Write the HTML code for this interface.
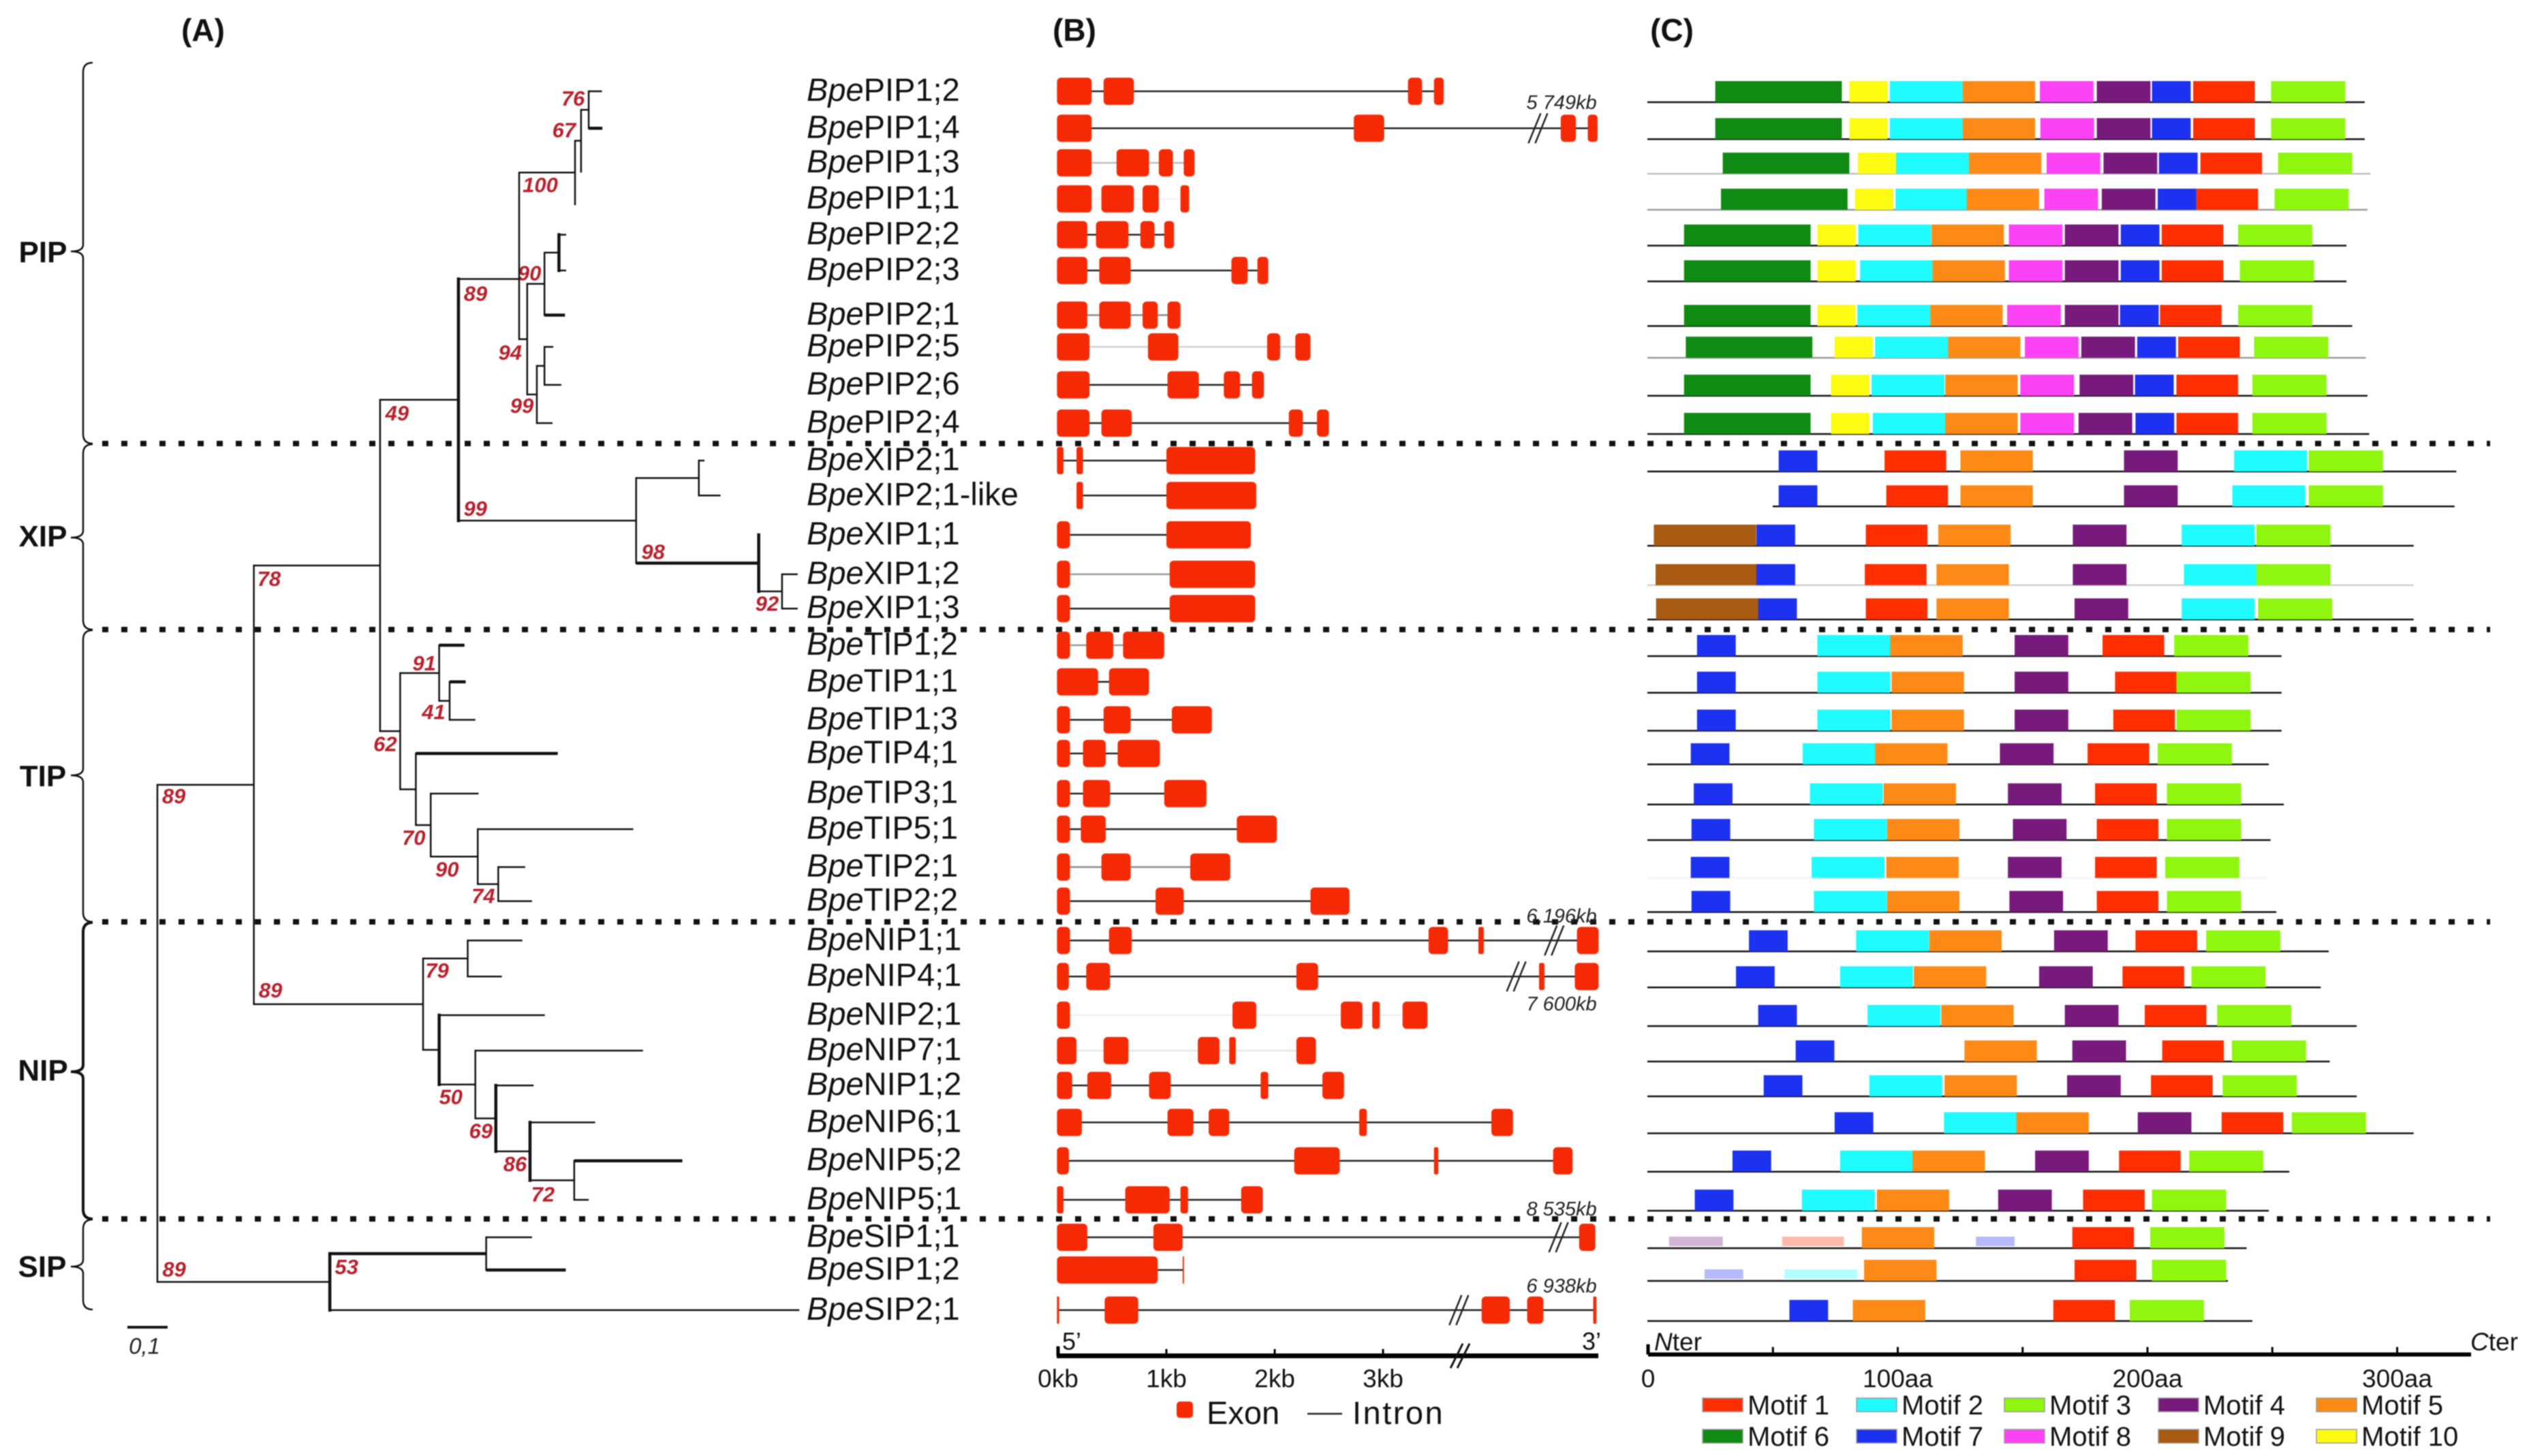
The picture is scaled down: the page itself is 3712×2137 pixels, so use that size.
<!DOCTYPE html>
<html>
<head>
<meta charset="utf-8">
<title>Aquaporin gene family: phylogeny, gene structure and motifs</title>
<style>
html,body{margin:0;padding:0;background:#fff;}
svg{display:block;font-family:"Liberation Sans",sans-serif;filter:blur(0.7px);}
</style>
</head>
<body>
<svg id="chart" xmlns="http://www.w3.org/2000/svg" width="3712" height="2137" viewBox="0 0 3712 2137">
<rect width="3712" height="2137" fill="#fff"/>
<text x="298" y="60" font-size="46" font-weight="bold" text-anchor="middle" fill="#111">(A)</text>
<text x="1577" y="60" font-size="46" font-weight="bold" text-anchor="middle" fill="#111">(B)</text>
<text x="2454" y="60" font-size="46" font-weight="bold" text-anchor="middle" fill="#111">(C)</text>
<g font-size="44" font-weight="bold" text-anchor="middle" fill="#111">
<text x="63" y="385">PIP</text>
<text x="63" y="802">XIP</text>
<text x="63" y="1154">TIP</text>
<text x="63" y="1586">NIP</text>
<text x="62" y="1874">SIP</text>
</g>
<g fill="none" stroke="#111" stroke-width="2.5">
<path d="M136,92 Q122,92 122,106 L122,359 Q122,369 104,369 Q122,369 122,379 L122,637 Q122,651 136,651"/>
<path d="M136,652 Q122,652 122,666 L122,779 Q122,789 104,789 Q122,789 122,799 L122,910 Q122,924 136,924"/>
<path d="M136,925 Q122,925 122,939 L122,1128 Q122,1138 104,1138 Q122,1138 122,1148 L122,1339 Q122,1353 136,1353"/>
<path stroke-width="4" d="M136,1354 Q122,1354 122,1368 L122,1563 Q122,1573 104,1573 Q122,1573 122,1583 L122,1775 Q122,1789 136,1789"/>
<path d="M136,1790 Q122,1790 122,1804 L122,1849 Q122,1859 104,1859 Q122,1859 122,1869 L122,1908 Q122,1922 136,1922"/>
</g>
<g stroke="#111" stroke-width="8" stroke-dasharray="9 19">
<line x1="150" y1="651" x2="3655" y2="651"/>
<line x1="150" y1="924" x2="3655" y2="924"/>
<line x1="150" y1="1353" x2="3655" y2="1353"/>
<line x1="150" y1="1789" x2="3655" y2="1789"/>
</g>
<g>
<line x1="187" y1="1948" x2="246" y2="1948" stroke="#111" stroke-width="4"/>
<text x="212" y="1987" font-size="33" font-style="italic" text-anchor="middle" fill="#222">0,1</text>
</g>
<g id="tree"></g>
<g id="labels"></g>
<g id="genes"></g>
<g id="motifs"></g>
<g font-size="29" font-style="italic" text-anchor="middle" fill="#222">
<text x="2292" y="160">5 749kb</text>
<text x="2292" y="1354">6,196kb</text>
<text x="2292" y="1483">7 600kb</text>
<text x="2292" y="1784">8 535kb</text>
<text x="2292" y="1897">6 938kb</text>
</g>
<g fill="#111">
<rect x="1727" y="2057" width="24" height="24" rx="5" fill="#f52a05"/>
<text x="1771" y="2090" font-size="47">Exon</text>
<line x1="1919" y1="2075" x2="1970" y2="2075" stroke="#222" stroke-width="2.5"/>
<text x="1985" y="2090" font-size="47" letter-spacing="2.5">Intron</text>
</g>
<script>
// ---------- categories ----------
const geneNames = ["PIP1;2","PIP1;4","PIP1;3","PIP1;1","PIP2;2","PIP2;3","PIP2;1","PIP2;5","PIP2;6","PIP2;4",
  "XIP2;1","XIP2;1-like","XIP1;1","XIP1;2","XIP1;3",
  "TIP1;2","TIP1;1","TIP1;3","TIP4;1","TIP3;1","TIP5;1","TIP2;1","TIP2;2",
  "NIP1;1","NIP4;1","NIP2;1","NIP7;1","NIP1;2","NIP6;1","NIP5;2","NIP5;1",
  "SIP1;1","SIP1;2","SIP2;1"];

// ---------- (A) tree: [node, parent, branch length, support] ----------
const treeEdges = [
["A","root",.240,89],["B","A",.314,78],["C","B",.195,49],["D","C",.151,89],["E","D",.139,100],
["E2","E",.015,67],["F","E2",.019,76],["PIP1;2","F",.033],["PIP1;4","F",.034],["PIP1;3","E2",0],["PIP1;1","E",0],
["G","D",.020,94],["H","G",.043,90],["I","H",.036],["PIP2;2","I",.018],["PIP2;3","I",.018],["PIP2;1","H",.051],
["J","G",.024,99],["K","J",.019],["PIP2;5","K",.022],["PIP2;6","K",.042],["PIP2;4","J",.039],
["L","C",.442,99],["M","L",.156],["XIP2;1","M",.014],["XIP2;1-like","M",.054],
["N","L",.305,98],["XIP1;1","N",0],["O","N",.058,92],["XIP1;2","O",.039],["XIP1;3","O",.039],
["P","B",.050,62],["Q","P",.097,91],["TIP1;2","Q",.063],["R","Q",.026,41],["TIP1;1","R",.040],["TIP1;3","R",.064],
["S","P",.039],["TIP4;1","S",.353],["T","S",.037,70],["TIP3;1","T",.119],["U","T",.117,90],["TIP5;1","U",.387],
["V","U",.051,74],["TIP2;1","V",.067],["TIP2;2","V",.084],
["W","A",.421,89],["X","W",.111,79],["NIP1;1","X",.136],["NIP4;1","X",.085],
["Y","W",.040],["NIP2;1","Y",.263],["Z","Y",.090,50],["NIP7;1","Z",.417],["AA","Z",.051,69],["NIP1;2","AA",.094],
["AB","AA",.085,86],["NIP6;1","AB",.162],["AC","AB",.110,72],["NIP5;2","AC",.269],["NIP5;1","AC",.036],
["AD","root",.429,89],["AE","AD",.389,53],["SIP1;1","AE",.114],["SIP1;2","AE",.198],["SIP2;1","AD",1.168]
];

// ---------- (B) exons in kb, one list per gene ----------
const exonsKb = [
[[-.01,.31],[.42,.70],[3.23,3.36],[3.47,3.56]],
[[-.01,.31],[2.73,3.01],[4.64,4.78],[4.89,4.98]],
[[-.01,.31],[.54,.84],[.93,1.06],[1.16,1.26]],
[[-.01,.31],[.40,.70],[.78,.93],[1.13,1.21]],
[[-.01,.27],[.35,.65],[.76,.89],[.98,1.07]],
[[-.01,.27],[.38,.67],[1.60,1.75],[1.84,1.94]],
[[-.01,.27],[.38,.67],[.78,.92],[1.01,1.13]],
[[-.01,.29],[.83,1.11],[1.93,2.05],[2.19,2.33]],
[[-.01,.29],[1.01,1.30],[1.53,1.68],[1.79,1.90]],
[[-.01,.29],[.40,.68],[2.13,2.26],[2.39,2.50]],
[[-.01,.05],[.17,.23],[1.00,1.82]],
[[.17,.23],[1.00,1.83]],
[[-.01,.11],[1.00,1.78]],
[[-.01,.11],[1.03,1.82]],
[[-.01,.11],[1.03,1.82]],
[[-.01,.11],[.26,.51],[.60,.98]],
[[-.01,.37],[.47,.84]],
[[-.01,.11],[.42,.67],[1.05,1.42]],
[[-.01,.11],[.23,.44],[.55,.94]],
[[-.01,.11],[.23,.48],[.98,1.37]],
[[-.01,.11],[.21,.44],[1.65,2.02]],
[[-.01,.11],[.40,.67],[1.22,1.59]],
[[-.01,.11],[.90,1.16],[2.33,2.69]],
[[-.01,.11],[.47,.68],[3.42,3.60],[3.88,3.93],[4.79,4.99]],
[[-.01,.10],[.26,.48],[2.20,2.40],[4.44,4.49],[4.77,4.99]],
[[-.01,.11],[1.61,1.83],[2.61,2.81],[2.90,2.97],[3.18,3.41]],
[[-.01,.17],[.42,.65],[1.29,1.49],[1.58,1.64],[2.20,2.38]],
[[-.01,.13],[.27,.49],[.84,1.04],[1.87,1.94],[2.44,2.64]],
[[-.01,.22],[1.01,1.25],[1.39,1.58],[2.78,2.85],[4.00,4.20]],
[[-.01,.10],[2.18,2.60],[3.47,3.51],[4.57,4.75]],
[[-.01,.05],[.62,1.03],[1.13,1.20],[1.69,1.89]],
[[-.01,.27],[.88,1.15],[4.81,4.96]],
[[-.01,.92],[1.15,1.16]],
[[-.01,.01],[.43,.74],[3.91,4.17],[4.33,4.48],[4.94,4.97]]
];
const breakGenes = ["PIP1;4","NIP1;1","NIP4;1","SIP1;1","SIP2;1"];
const breakKb = [4.43,4.58,4.23,4.62,3.70];
const geneTickKb = [0,1,2,3];
const geneTickLabels = ["0kb","1kb","2kb","3kb"];

// ---------- (C) motifs in amino acids ----------
const motifNames = ["Motif 1","Motif 2","Motif 3","Motif 4","Motif 5","Motif 6","Motif 7","Motif 8","Motif 9","Motif 10"];
const motifLengthsAa = [24.7,29.2,29.7,21.5,29,50.7,15.5,21.5,41,15.3];
const proteinLengthsAa = [287,287,289.3,288.1,279.7,279.7,282,287.4,288.1,288.8,323.7,323,306.6,306.6,306.6,
  253.7,253.7,253.7,248.6,254.6,249.3,247.7,251.6,272.6,269.4,283.8,273,283.8,306.6,256.8,248.6,239.7,232.2,242];
const proteinStartsAa = [0,0,0,0,0,0,0,0,0,0,0,50.2,0,0,0,0,0,0,0,0,0,0,0,0,0,0,0,0,0,0,0,0,0,0];
// each row: [motif number, start aa]
const motifSites = [
[[6,26.9],[10,80.6],[2,96.8],[5,126],[8,156.9],[4,179.7],[7,201.8],[1,218.3],[3,249.5]],
[[6,26.9],[10,80.6],[2,96.8],[5,126],[8,157.1],[4,179.7],[7,201.8],[1,218.3],[3,249.5]],
[[6,29.9],[10,84],[2,99.3],[5,128.5],[8,159.6],[4,182.4],[7,204.6],[1,221.2],[3,252.3]],
[[6,29.2],[10,82.9],[2,99.1],[5,127.6],[8,158.7],[4,181.7],[7,204.1],[1,219.6],[3,250.9]],
[[6,14.4],[10,67.8],[2,84.2],[5,113.5],[8,144.5],[4,166.9],[7,189.3],[1,205.7],[3,236.3]],
[[6,14.4],[10,67.8],[2,84.9],[5,113.9],[8,144.5],[4,166.9],[7,189.3],[1,205.7],[3,237]],
[[6,14.4],[10,67.8],[2,83.8],[5,113],[8,143.8],[4,166.9],[7,189],[1,205],[3,236.3]],
[[6,15.1],[10,74.7],[2,90.9],[5,120.1],[8,150.9],[4,173.5],[7,195.9],[1,212.3],[3,242.7]],
[[6,14.4],[10,73.3],[2,89.5],[5,119],[8,149.1],[4,172.8],[7,195],[1,211.6],[3,242]],
[[6,14.4],[10,73.3],[2,90],[5,119],[8,149.1],[4,172.4],[7,195.2],[1,211.6],[3,242]],
[[7,52.3],[1,94.7],[5,125.1],[4,190.6],[2,234.7],[3,264.6]],
[[7,52.3],[1,95.4],[5,125.1],[4,190.6],[2,234],[3,264.6]],
[[9,2.3],[7,43.4],[1,87.2],[5,116.2],[4,170.1],[2,213.7],[3,243.6]],
[[9,3],[7,43.4],[1,86.8],[5,115.5],[4,170.1],[2,214.6],[3,243.6]],
[[9,3.2],[7,44.1],[1,87.2],[5,115.5],[4,170.8],[2,213.7],[3,244.3]],
[[7,19.6],[2,67.8],[5,97],[4,146.8],[1,182],[3,210.7]],
[[7,19.6],[2,67.8],[5,97.5],[4,146.8],[1,187],[3,211.6]],
[[7,19.6],[2,67.8],[5,97.5],[4,146.8],[1,186.3],[3,211.6]],
[[7,17.1],[2,61.9],[5,90.9],[4,140.9],[1,176],[3,204.1]],
[[7,18.3],[2,64.8],[5,94.3],[4,144.1],[1,179],[3,207.8]],
[[7,17.4],[2,66.4],[5,95.7],[4,146.1],[1,179.7],[3,207.8]],
[[7,17.1],[2,65.5],[5,95.4],[4,144.1],[1,179],[3,207.1]],
[[7,17.4],[2,66.4],[5,95.7],[4,144.7],[1,179.7],[3,207.8]],
[[7,40.4],[2,83.3],[5,112.6],[4,162.6],[1,195.2],[3,223.5]],
[[7,35.2],[2,76.9],[5,106.4],[4,156.6],[1,190],[3,217.6]],
[[7,44.1],[2,87.9],[5,117.4],[4,166.9],[1,198.9],[3,227.9]],
[[7,59.1],[5,126.7],[4,169.9],[1,205.9],[3,233.8]],
[[7,46.3],[2,88.6],[5,118.7],[4,167.8],[1,201.4],[3,230.1]],
[[7,74.7],[2,118.5],[5,147.5],[4,196.1],[1,229.7],[3,257.8]],
[[7,33.8],[2,76.9],[5,105.9],[4,155],[1,188.6],[3,216.7]],
[[7,18.7],[2,61.6],[5,91.6],[4,140.2],[1,174.2],[3,201.8]],
[[5,85.6],[1,169.9],[3,201.1]],
[[5,86.5],[1,170.8],[3,201.8]],
[[7,56.6],[5,82],[1,162.3],[3,192.9]]
];
// weak (faded) motif hits: [row, motif number, start aa]
const weakMotifSites = [[31,4,8.4],[31,1,53.7],[31,7,131.3],[32,7,22.6],[32,2,54.6]];
const aaTicks = [0,50,100,150,200,250,300];
const aaTickLabels = ["0","","100aa","","200aa","","300aa"];

// ---------- axis functions ----------
const NS = "http://www.w3.org/2000/svg";
const rowY = (function(){
  const nudge = [0,0,-3.6,-5,-6.7,-8.5,2.7,-5,-3.5,-1.7,-1,-4,-.6,3,-1,-1.5,-2,-.6,-5.5,-1,-3,-1.7,-6,-2.5,-4,-1.5,-3.8,-7,-7,-5,-2,-1.3,-7.6,-3];
  return function(i){ return 134 + 54.3*i + nudge[i]; };
})();
const kbX = function(kb){ return 1553 + 159*kb; };
const aaX = function(aa){ return 2419 + 3.665*aa; };
const treeX = function(dist){ return 231 + 590*dist; };

function mk(tag, attrs, parent, text){
  const e = document.createElementNS(NS, tag);
  for (const k in attrs) e.setAttribute(k, attrs[k]);
  if (text !== undefined) e.textContent = text;
  parent.appendChild(e);
  return e;
}

// ---------- gene labels ----------
const labelsG = document.getElementById("labels");
geneNames.forEach(function(name, i){
  const t = mk("text", {x:1184, y:rowY(i)+14, "font-size":47, fill:"#111"}, labelsG);
  
  
  mk("tspan", {"font-style":"italic"}, t, "Bpe");
  mk("tspan", {}, t, name);
});

// ---------- tree ----------
(function(){
  const g = document.getElementById("tree");
  const boldH = new Set(["PIP1;4","PIP2;1","TIP1;2","TIP1;1","TIP4;1","NIP5;2","N","AE","SIP1;2"]);
  const boldV = new Set(["I","C","N","Y","AB","AD","AA"]);
  const shift = {"PIP1;3":13,"PIP1;1":8,"D":34};
  const supportOffset = {A:[-117.5,16],B:[-163,19],C:[-90,19],D:[-64,21],E:[-51,18],E2:[-25,-16],F:[-23,-17],
    G:[-25,19],H:[-22,-16],J:[-22,16],L:[-236,-18],N:[-155,-17],O:[-22,17.5],P:[-22,18.5],Q:[-22,-15],R:[-23.5,16],
    T:[-25,18],U:[-45,18],V:[-22,17],W:[-224,-21],X:[-45,17],Z:[-36,18],AA:[-22,18],AB:[-22,18],AC:[-46,20],
    AD:[-228.5,-19],AE:[-205,19]};
  const kids = {}, meta = {};
  treeEdges.forEach(function(e){
    (kids[e[1]] = kids[e[1]] || []).push(e[0]);
    meta[e[0]] = {parent:e[1], len:e[2], support:e[3]};
  });
  const pos = {};
  function walk(id, dist){
    const cs = kids[id];
    let y;
    if (!cs) {
      y = rowY(geneNames.indexOf(id));
    } else {
      const ys = cs.map(function(c){ return walk(c, dist + meta[c].len); });
      y = (Math.min.apply(null, ys) + Math.max.apply(null, ys)) / 2;
    }
    y += shift[id] || 0;
    pos[id] = {x:treeX(dist), y:y, ys:cs ? cs.map(function(c){ return pos[c].y; }) : null};
    return y;
  }
  walk("root", 0);
  Object.keys(pos).forEach(function(id){
    const p = pos[id];
    if (p.ys) {
      const v = mk("line", {x1:p.x, x2:p.x, y1:Math.min.apply(null,p.ys), y2:Math.max.apply(null,p.ys), stroke:"#111", "stroke-width":boldV.has(id)?4.5:2.5, "stroke-linecap":"square"}, g);
      
      
    }
    if (id !== "root") {
      const par = pos[meta[id].parent];
      const h = mk("line", {x1:par.x, x2:p.x, y1:p.y, y2:p.y, stroke:"#111", "stroke-width":boldH.has(id)?4.5:2.5}, g);
      
      
      if (meta[id].support !== undefined) {
        const off = supportOffset[id] || [0,0];
        const t = mk("text", {x:p.x+off[0], y:p.y+off[1]+11, "font-size":31, "font-style":"italic", "font-weight":"bold", "text-anchor":"middle", fill:"#b8202c"}, g, String(meta[id].support));
        
        
      }
    }
  });
})();

// ---------- gene structures ----------
(function(){
  const g = document.getElementById("genes");
  const intronTone = {"PIP1;3":"#bdbdbd","PIP1;1":"#f2f2f2","PIP2;1":"#8a8a8a","PIP2;5":"#d0d0d0","XIP1;2":"#9a9a9a",
    "TIP1;2":"#9a9a9a","TIP2;1":"#8a8a8a","NIP2;1":"#f0f0f0","NIP7;1":"#e6e6e6"};
  exonsKb.forEach(function(exons, i){
    const y = rowY(i), name = geneNames[i];
    const line = mk("line", {x1:kbX(exons[0][0]), x2:kbX(exons[exons.length-1][1]), y1:y, y2:y, stroke:intronTone[name]||"#222", "stroke-width":2.5}, g);
    
    
    exons.forEach(function(ex){
      const x0 = kbX(ex[0]), x1 = kbX(ex[1]), w = Math.max(x1-x0, 2);
      const r = mk("rect", {x:x0, y:y-20, width:w, height:40, rx:Math.min(6, w/3), fill:"#f52a05"}, g);
      
      
    });
    const bi = breakGenes.indexOf(name);
    if (bi >= 0) {
      [-5,5].forEach(function(d){
        const bx = kbX(breakKb[bi]) + d;
        const s = mk("line", {x1:bx-9, y1:y+22, x2:bx+9, y2:y-22, stroke:"#222", "stroke-width":2.5}, g);
        
        
      });
    }
  });
  // axis
  const axisY = 1990;
  const axis = mk("line", {x1:kbX(0)-2, x2:2346, y1:axisY, y2:axisY, stroke:"#000", "stroke-width":7}, g);
  
  
  geneTickKb.forEach(function(kb, i){
    const tk = mk("line", {x1:kbX(kb), x2:kbX(kb), y1:axisY-(i?10:14), y2:axisY, stroke:"#000", "stroke-width":i?3:5}, g);
    
    
    const lb = mk("text", {x:kbX(kb), y:2036, "font-size":37, "text-anchor":"middle", fill:"#111"}, g, geneTickLabels[i]);
    
    
  });
  [-5,5].forEach(function(d){
    const s = mk("line", {x1:2143+d-9, y1:2008, x2:2143+d+9, y2:1972, stroke:"#111", "stroke-width":3}, g);
    
    
  });
  const five = mk("text", {x:1573, y:1981, "font-size":36, "text-anchor":"middle", fill:"#111"}, g, "5’");
  
  
  const three = mk("text", {x:2336, y:1981, "font-size":36, "text-anchor":"middle", fill:"#111"}, g, "3’");
  
  
})();

// ---------- motifs ----------
(function(){
  const g = document.getElementById("motifs");
  const colors = ["#ff2e00","#1ffbff","#8ff70f","#771a7c","#fd8a17","#0f8a12","#1d31f0","#fb42f4","#a85a12","#fdfb12"];
  const baseTone = {"PIP1;3":"#bdbdbd","PIP1;1":"#9a9a9a","PIP2;5":"#9a9a9a","XIP1;2":"#cfcfcf","TIP2;1":"#f2f2f2"};
  motifSites.forEach(function(sites, i){
    const base = rowY(i) + 16, name = geneNames[i];
    const line = mk("line", {x1:aaX(proteinStartsAa[i])-1, x2:aaX(proteinLengthsAa[i]), y1:base, y2:base, stroke:baseTone[name]||"#111", "stroke-width":2.5}, g);
    
    
    sites.forEach(function(s){
      const m = s[0]-1;
      const r = mk("rect", {x:aaX(s[1]), y:base-31, width:aaX(motifLengthsAa[m])-aaX(0), height:31, fill:colors[m]}, g);
      
      
    });
  });
  weakMotifSites.forEach(function(s){
    const base = rowY(s[0]) + 16, m = s[1]-1;
    const r = mk("rect", {x:aaX(s[2]), y:base-17, width:aaX(motifLengthsAa[m])-aaX(0), height:14, fill:colors[m], opacity:.33}, g);
    
    
  });
  // axis
  const axisY = 1988;
  const axis = mk("line", {x1:aaX(0), x2:3627, y1:axisY, y2:axisY, stroke:"#000", "stroke-width":6}, g);
  
  
  aaTicks.forEach(function(aa, i){
    const tk = mk("line", {x1:aaX(aa), x2:aaX(aa), y1:axisY-(i?11:15), y2:axisY, stroke:"#000", "stroke-width":i?3:5}, g);
    
    
    if (aaTickLabels[i]) {
      const lb = mk("text", {x:aaX(aa), y:2036, "font-size":37, "text-anchor":"middle", fill:"#111"}, g, aaTickLabels[i]);
      
      
    }
  });
  const nter = mk("text", {x:2428, y:1982, "font-size":37, fill:"#111"}, g);
  
  
  mk("tspan", {"font-style":"italic"}, nter, "N");
  mk("tspan", {}, nter, "ter");
  const cter = mk("text", {x:3626, y:1982, "font-size":37, fill:"#111"}, g);
  
  
  mk("tspan", {"font-style":"italic"}, cter, "C");
  mk("tspan", {}, cter, "ter");
  // legend
  const swatchLeft = [2499,2725,2942,3168,3400];
  motifNames.forEach(function(label, i){
    const col = i % 5, yy = i < 5 ? 2062 : 2108;
    const sw = mk("rect", {x:swatchLeft[col], y:yy-10, width:59, height:20, fill:colors[i], stroke:"#999", "stroke-width":1.5}, g);
    
    
    const tx = mk("text", {x:swatchLeft[col]+66, y:yy+14, "font-size":40, fill:"#111"}, g, label);
    
    
  });
})();
</script>
</svg>
</body>
</html>
